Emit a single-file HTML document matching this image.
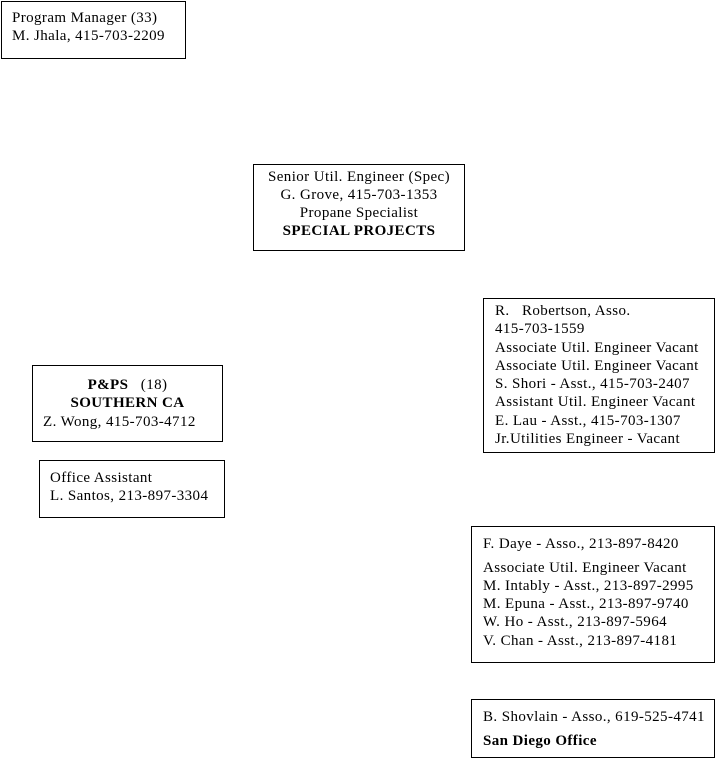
<!DOCTYPE html>
<html><head><style>
body{margin:0;width:724px;height:760px;background:#fff;position:relative;overflow:hidden;font-family:"Liberation Serif",serif;font-size:15px;letter-spacing:0.4px;color:#000}
.b{position:absolute;border:1px solid #000;box-sizing:border-box}
.t{position:absolute;line-height:18px;white-space:nowrap}
.c{text-align:center}
b{font-weight:bold}
</style></head><body>
<div class="b" style="left:1px;top:1px;width:185px;height:58px"></div>
<div class="t" style="left:12px;top:9px">Program Manager (33)</div>
<div class="t" style="left:12px;top:27px">M. Jhala, 415-703-2209</div>

<div class="b" style="left:253px;top:164px;width:212px;height:87px"></div>
<div class="t c" style="left:253px;width:212px;top:168px">Senior Util. Engineer (Spec)</div>
<div class="t c" style="left:253px;width:212px;top:186px">G. Grove, 415-703-1353</div>
<div class="t c" style="left:253px;width:212px;top:204px">Propane Specialist</div>
<div class="t c" style="left:253px;width:212px;top:222px"><b>SPECIAL PROJECTS</b></div>

<div class="b" style="left:483px;top:298px;width:232px;height:155px"></div>
<div class="t" style="left:495px;top:302px">R.&nbsp;&nbsp; Robertson, Asso.</div>
<div class="t" style="left:495px;top:320px">415-703-1559</div>
<div class="t" style="left:495px;top:339px">Associate Util. Engineer Vacant</div>
<div class="t" style="left:495px;top:357px">Associate Util. Engineer Vacant</div>
<div class="t" style="left:495px;top:375px">S. Shori - Asst., 415-703-2407</div>
<div class="t" style="left:495px;top:393px">Assistant Util. Engineer Vacant</div>
<div class="t" style="left:495px;top:412px">E. Lau - Asst., 415-703-1307</div>
<div class="t" style="left:495px;top:430px">Jr.Utilities Engineer - Vacant</div>

<div class="b" style="left:32px;top:365px;width:191px;height:77px"></div>
<div class="t c" style="left:32px;width:191px;top:376px"><b>P&amp;PS</b>&nbsp;&nbsp; (18)</div>
<div class="t c" style="left:32px;width:191px;top:394px"><b>SOUTHERN CA</b></div>
<div class="t" style="left:43px;top:413px">Z. Wong, 415-703-4712</div>

<div class="b" style="left:39px;top:460px;width:186px;height:58px"></div>
<div class="t" style="left:50px;top:469px">Office Assistant</div>
<div class="t" style="left:50px;top:487px">L. Santos, 213-897-3304</div>

<div class="b" style="left:471px;top:526px;width:244px;height:137px"></div>
<div class="t" style="left:483px;top:535px">F. Daye - Asso., 213-897-8420</div>
<div class="t" style="left:483px;top:559px">Associate Util. Engineer Vacant</div>
<div class="t" style="left:483px;top:577px">M. Intably - Asst., 213-897-2995</div>
<div class="t" style="left:483px;top:595px">M. Epuna - Asst., 213-897-9740</div>
<div class="t" style="left:483px;top:613px">W. Ho - Asst., 213-897-5964</div>
<div class="t" style="left:483px;top:632px">V. Chan - Asst., 213-897-4181</div>

<div class="b" style="left:471px;top:699px;width:244px;height:59px"></div>
<div class="t" style="left:483px;top:708px">B. Shovlain - Asso., 619-525-4741</div>
<div class="t" style="left:483px;top:732px"><b>San Diego Office</b></div>
</body></html>
